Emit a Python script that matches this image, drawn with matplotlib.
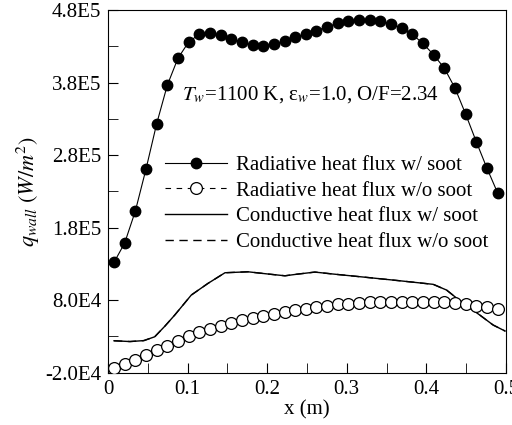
import matplotlib.pyplot as plt
from matplotlib.ticker import FixedLocator, MultipleLocator

plt.rcParams['font.family'] = ['Liberation Serif', 'DejaVu Serif']
plt.rcParams['mathtext.fontset'] = 'stix'

# wall positions (m) of the radiative samples
x_rad = [0.0075, 0.0209, 0.0343, 0.0477, 0.0611, 0.0745, 0.0879, 0.1012,
         0.1146, 0.1280, 0.1414, 0.1548, 0.1682, 0.1816, 0.1950, 0.2084,
         0.2218, 0.2352, 0.2486, 0.2620, 0.2754, 0.2887, 0.3021, 0.3155,
         0.3289, 0.3423, 0.3557, 0.3691, 0.3825, 0.3959, 0.4093, 0.4227,
         0.4361, 0.4495, 0.4629, 0.4762, 0.4896]

rad_soot = [132200, 158800, 202900, 260800, 323300, 376600, 413800, 435900,
            446900, 448300, 445500, 440400, 436300, 431700, 430800, 433100,
            437700, 442800, 446900, 451700, 457500, 461700, 465200, 466600,
            466600, 465200, 460700, 455600, 446500, 434100, 418400, 400000,
            372500, 336600, 298400, 262200, 228100]

rad_nosoot = [-13900, -8400, -2500, 4000, 10900, 17200, 24100, 30200,
              35700, 40200, 44800, 48900, 52600, 55800, 58600, 60900,
              63300, 66000, 67500, 70200, 72400, 74300, 75100, 76500,
              77000, 77200, 77400, 77500, 77500, 77400, 77200, 77000,
              76500, 74300, 72000, 70200, 67900]

# conductive flux along the wall
x_cond = [0.0075, 0.0276, 0.0450, 0.0587, 0.0716, 0.0838, 0.1046, 0.1256,
          0.1470, 0.1760, 0.2014, 0.2224, 0.2390, 0.2600, 0.2830, 0.3250,
          0.3670, 0.4087, 0.4255, 0.4464, 0.4673, 0.4840, 0.4990]
cond_soot = [24100, 23000, 24300, 29600, 44400, 59500, 87100, 103200,
             117900, 119200, 116100, 113700, 116100, 118800, 116100, 111500,
             106800, 101900, 94000, 75700, 59500, 45800, 37500]
cond_nosoot = cond_soot

fig = plt.figure(figsize=(5.12, 4.25), dpi=100)
ax = fig.add_axes([0.211, 0.123, 0.777, 0.853])

ax.plot(x_cond, cond_nosoot, color='black', lw=1.0, ls=(0, (6, 4)),
        label='Conductive heat flux w/o soot', zorder=2)
ax.plot(x_cond, cond_soot, color='black', lw=1.0,
        label='Conductive heat flux w/ soot', zorder=3)
ax.plot(x_rad, rad_nosoot, color='black', lw=0.8, ls=(0, (5, 5)),
        marker='o', ms=8.5, mfc='white', mec='black', mew=0.9,
        label='Radiative heat flux w/o soot', zorder=4)
ax.plot(x_rad, rad_soot, color='black', lw=0.8, marker='o', ms=7.5,
        mfc='black', mec='black', label='Radiative heat flux w/ soot', zorder=5)

ax.set_xlim(0, 0.5)
ax.set_ylim(-2.0e4, 4.8e5)

yticks = [-2.0e4, 8.0e4, 1.8e5, 2.8e5, 3.8e5, 4.8e5]
ylabels = ['-2.0E4', '8.0E4', '1.8E5', '2.8E5', '3.8E5', '4.8E5']
ax.yaxis.set_major_locator(FixedLocator(yticks))
ax.set_yticklabels(ylabels)
ax.yaxis.set_minor_locator(FixedLocator([3.0e4, 1.3e5, 2.3e5, 3.3e5, 4.3e5]))
ax.set_xticks([0, 0.1, 0.2, 0.3, 0.4, 0.5])
ax.set_xticklabels(['0', '0.1', '0.2', '0.3', '0.4', '0.5'])
ax.xaxis.set_minor_locator(MultipleLocator(0.05))

ax.tick_params(which='both', direction='in', top=False, right=False,
               labelsize=15)
ax.tick_params(which='major', length=7, pad=5)
ax.tick_params(which='minor', length=7)

ax.set_xlabel('x (m)', fontsize=15, labelpad=1)
ax.set_ylabel(r'$q_{wall}\ (W/m^2)$', fontsize=16, labelpad=2)

ax.text(0.093, 3.63e5, r'$T_w$=1100 K, ε$_w$=1.0, O/F=2.34', fontsize=15,
        va='center')

handles, labels = ax.get_legend_handles_labels()
order = [3, 2, 1, 0]
ax.legend([handles[i] for i in order], [labels[i] for i in order],
          loc='upper left', bbox_to_anchor=(0.143, 0.60), frameon=False,
          fontsize=15, handlelength=3.0, handletextpad=0.4,
          labelspacing=0.3, borderaxespad=0, borderpad=0)

fig.savefig('out.png', dpi=100)
